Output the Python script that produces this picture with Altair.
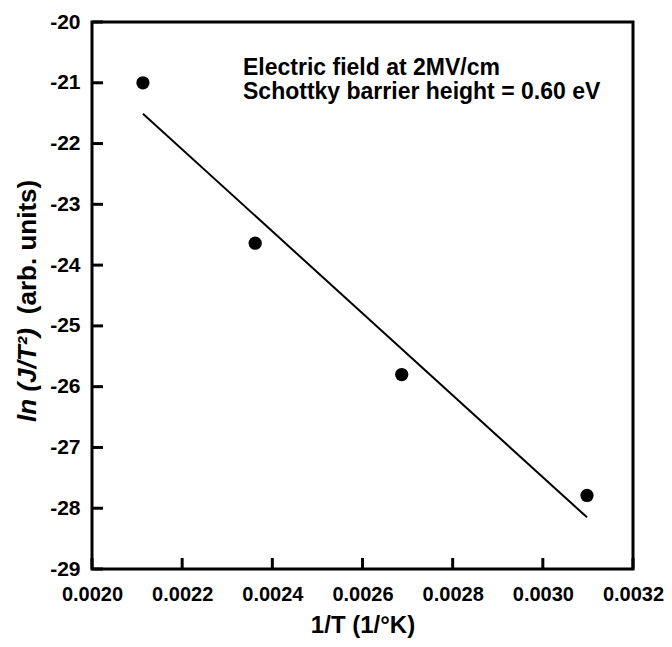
import altair as alt
import pandas as pd

# data
inv_T = [0.002113, 0.002362, 0.002687, 0.003098]
ln_JT2 = [-21.0, -23.64, -25.80, -27.79]
fit_x = [0.002113, 0.003098]
fit_y = [-21.51, -28.15]

x_ticks = [0.0020, 0.0022, 0.0024, 0.0026, 0.0028, 0.0030, 0.0032]
y_ticks = [-29, -28, -27, -26, -25, -24, -23, -22, -21, -20]

note_lines = ["Electric field at 2MV/cm", "Schottky barrier height = 0.60 eV"]
ytitle_italic = ["ln (J/T²)"]
ytitle_plain = ["(arb. units)"]
x_title = "1/T (1/°K)"

FONT = "Liberation Sans"

pts = pd.DataFrame({"x": inv_T, "y": ln_JT2})
fit = pd.DataFrame({"x": fit_x, "y": fit_y})
xt = pd.DataFrame({"x": x_ticks})
yt = pd.DataFrame({"y": y_ticks})

xscale = alt.Scale(domain=[0.0020, 0.0032], nice=False, zero=False)
yscale = alt.Scale(domain=[-29, -20], nice=False, zero=False)

xaxis = alt.Axis(
    values=x_ticks, labelExpr="format(datum.value, '.4f')", title=x_title,
    ticks=False, domain=False, grid=False,
    labelFont=FONT, labelFontSize=20, labelFontWeight="bold", labelColor="black",
    labelPadding=15, titleFont=FONT, titleFontSize=24, titleFontWeight="bold",
    titleColor="black", titlePadding=9, labelFlush=False,
)
yaxis = alt.Axis(
    values=y_ticks, labelExpr="'' + datum.value", title=None,
    ticks=False, domain=False, grid=False,
    labelFont=FONT, labelFontSize=21, labelFontWeight="bold", labelColor="black",
    labelPadding=12, labelFlush=False,
)

points = alt.Chart(pts).mark_point(filled=True, color="black", size=175, opacity=1).encode(
    x=alt.X("x:Q", scale=xscale, axis=xaxis),
    y=alt.Y("y:Q", scale=yscale, axis=yaxis),
)
line = alt.Chart(fit).mark_line(color="black", strokeWidth=2).encode(
    x=alt.X("x:Q", scale=xscale),
    y=alt.Y("y:Q", scale=yscale),
)
xticks = alt.Chart(xt).mark_rule(color="black", strokeWidth=3).encode(
    x=alt.X("x:Q", scale=xscale), y=alt.value(547), y2=alt.value(536)
)
yticks = alt.Chart(yt).mark_rule(color="black", strokeWidth=3).encode(
    y=alt.Y("y:Q", scale=yscale), x=alt.value(0), x2=alt.value(11)
)

note1 = alt.Chart(pd.DataFrame({"t": [note_lines[0]]})).mark_text(
    font=FONT, fontSize=23, fontWeight="bold", align="left", baseline="alphabetic", color="black"
).encode(text="t:N", x=alt.value(151), y=alt.value(53))
note2 = alt.Chart(pd.DataFrame({"t": [note_lines[1]]})).mark_text(
    font=FONT, fontSize=23, fontWeight="bold", align="left", baseline="alphabetic", color="black"
).encode(text="t:N", x=alt.value(151), y=alt.value(77))

yt1 = alt.Chart(pd.DataFrame({"t": ytitle_italic})).mark_text(
    font=FONT, fontSize=26, fontWeight="bold", fontStyle="italic", angle=270,
    align="center", baseline="middle", color="black"
).encode(text="t:N", x=alt.value(-64), y=alt.value(353))
yt2 = alt.Chart(pd.DataFrame({"t": ytitle_plain})).mark_text(
    font=FONT, fontSize=26, fontWeight="bold", angle=270,
    align="center", baseline="middle", color="black"
).encode(text="t:N", x=alt.value(-64), y=alt.value(225))

chart = alt.layer(line, xticks, yticks, points, note1, note2, yt1, yt2).properties(
    width=541, height=547,
    autosize=alt.AutoSizeParams(type="none"),
    padding={"left": 84, "top": 14, "right": 31, "bottom": 70},
    background="white",
).configure_view(stroke="black", strokeWidth=3)

chart.save("out.html", embed_options={"renderer": "svg", "actions": False})
